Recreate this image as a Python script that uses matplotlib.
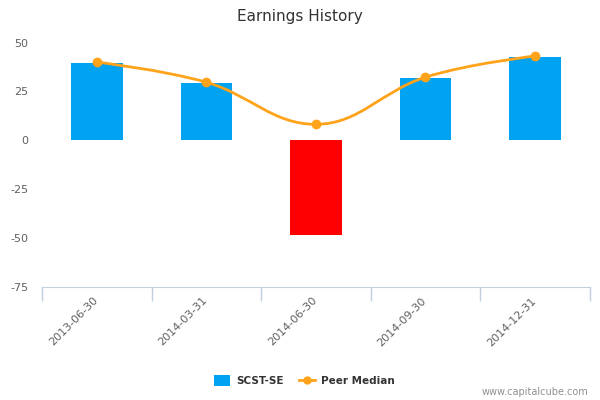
import numpy as np
import matplotlib
matplotlib.use('Agg')
import matplotlib.pyplot as plt
import matplotlib.transforms as mtrans
from matplotlib.path import Path
from matplotlib.patches import PathPatch, Patch
from matplotlib.lines import Line2D

plt.rcParams['axes.unicode_minus'] = False

# data
dates = ['2013-06-30', '2014-03-31', '2014-06-30', '2014-09-30', '2014-12-31']
company = [39.5, 29.2, -48.2, 31.8, 42.6]
peer_median = [40.0, 29.7, 8.2, 32.3, 43.1]

blue = '#00a2f2'
red = '#ff0000'
orange = '#ffa31a'
axis_col = '#c0d0e0'
label_col = '#606060'


def spline_path(xs, ys, smoothing=1.5):
    # Highcharts-style spline built as cubic bezier segments
    denom = smoothing + 1
    n = len(xs)
    conts = []
    for i in range(n):
        x, y = xs[i], ys[i]
        if 0 < i < n - 1:
            lx, ly = xs[i - 1], ys[i - 1]
            nx, ny = xs[i + 1], ys[i + 1]
            lcx = (smoothing * x + lx) / denom
            lcy = (smoothing * y + ly) / denom
            rcx = (smoothing * x + nx) / denom
            rcy = (smoothing * y + ny) / denom
            corr = (rcy - lcy) * (rcx - x) / (rcx - lcx) + y - rcy
            lcy += corr
            rcy += corr
            if lcy > ly and lcy > y:
                lcy = max(ly, y); rcy = 2 * y - lcy
            elif lcy < ly and lcy < y:
                lcy = min(ly, y); rcy = 2 * y - lcy
            if rcy > ny and rcy > y:
                rcy = max(ny, y); lcy = 2 * y - rcy
            elif rcy < ny and rcy < y:
                rcy = min(ny, y); lcy = 2 * y - rcy
            conts.append(((lcx, lcy), (rcx, rcy)))
        else:
            conts.append(((x, y), (x, y)))
    verts = [(xs[0], ys[0])]
    codes = [Path.MOVETO]
    for i in range(1, n):
        verts += [conts[i - 1][1], conts[i][0], (xs[i], ys[i])]
        codes += [Path.CURVE4] * 3
    return Path(verts, codes)


fig = plt.figure(figsize=(6, 4), dpi=100)
ax = fig.add_axes([0.07, 0.2825, 0.913, 0.66])

x = np.arange(len(dates))
colors = [blue if v >= 0 else red for v in company]
ax.bar(x, company, width=0.47, color=colors, zorder=2)

ax.add_patch(PathPatch(spline_path(list(x), peer_median), facecolor='none',
                       edgecolor=orange, lw=2, zorder=3))
ax.plot(x, peer_median, 'o', color=orange, ms=6, zorder=4)

ax.set_xlim(-0.5, len(dates) - 0.5)
ax.set_ylim(-75, 60)
ax.set_yticks([-75, -50, -25, 0, 25, 50])
ax.tick_params(axis='y', length=0, labelsize=8, labelcolor=label_col, pad=10)

ax.set_xticks(x)
ax.set_xticklabels(dates, rotation=45, ha='right', rotation_mode='anchor',
                   fontsize=8, color=label_col)
ax.tick_params(axis='x', length=0, pad=6)
shift = mtrans.ScaledTranslation(-4 / 100, 0, fig.dpi_scale_trans)
for lbl in ax.get_xticklabels():
    lbl.set_transform(lbl.get_transform() + shift)
ax.set_xticks(np.arange(-0.5, len(dates)), minor=True)
ax.tick_params(axis='x', which='minor', length=10, color=axis_col, width=1)

for s in ['top', 'right', 'left']:
    ax.spines[s].set_visible(False)
ax.spines['bottom'].set_color(axis_col)

fig.text(0.5, 0.96, 'Earnings History', ha='center', va='center',
         fontsize=11, color='#333333')

handles = [Patch(facecolor=blue, edgecolor='none'),
           Line2D([], [], color=orange, lw=2, marker='o', ms=5)]
fig.legend(handles, ['SCST-SE', 'Peer Median'], loc='center',
           bbox_to_anchor=(0.507, 0.048), ncol=2, frameon=False,
           prop={'size': 7.5, 'weight': 'bold'}, labelcolor='#333333',
           handlelength=1.5, handleheight=1.2, handletextpad=0.6,
           columnspacing=1.5)

fig.text(0.98, 0.02, 'www.capitalcube.com', ha='right', va='center',
         fontsize=7, color='#909090')

fig.savefig('out.png', dpi=100)
